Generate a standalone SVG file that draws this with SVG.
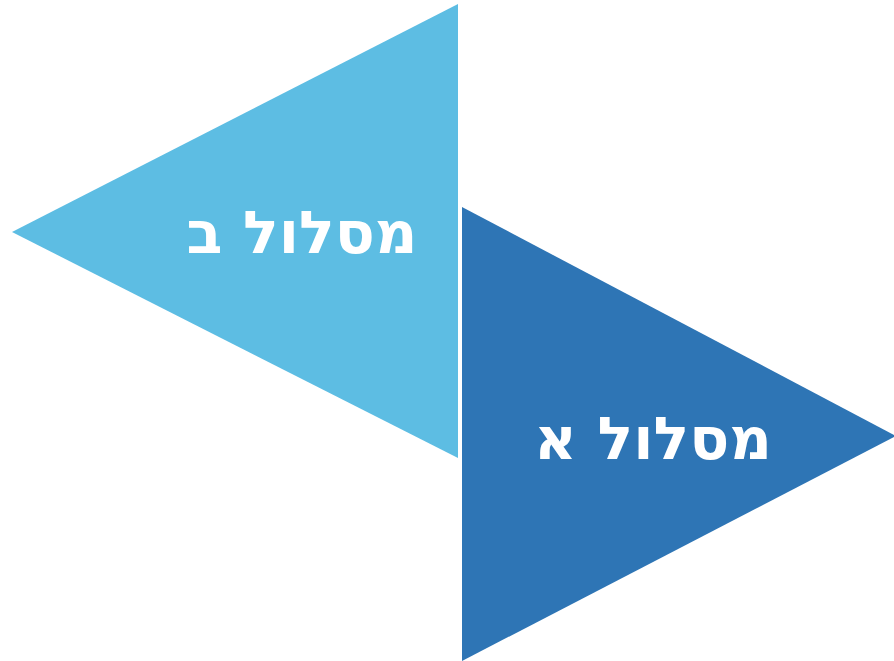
<svg xmlns="http://www.w3.org/2000/svg" width="894" height="661" viewBox="0 0 894 661">
<style>
.lbl{font-family:"DejaVu Sans","Noto Sans",sans-serif;font-weight:bold;font-size:59px;fill:#ffffff;text-anchor:middle;direction:rtl}
</style>
<rect width="894" height="661" fill="#ffffff"/>
<g id="node-b">
<polygon points="458,4 458,458 12,232" fill="#5dbde3"/>
<text class="lbl" x="302" y="253">מסלול ב</text>
</g>
<g id="node-a">
<polygon points="462,207 462,661 896,436" fill="#2e75b5"/>
<text class="lbl" x="653" y="459">מסלול א</text>
</g>
<g id="connectors"></g>
</svg>
